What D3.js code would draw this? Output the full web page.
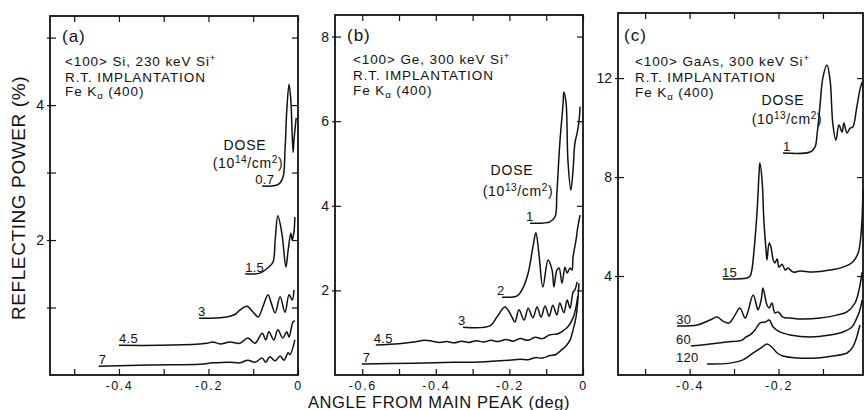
<!DOCTYPE html>
<html>
<head>
<meta charset="utf-8">
<script src="https://cdn.jsdelivr.net/npm/d3@7"></script>
<style>
  body { margin: 0; background: #fff; }
  text { font-family: "Liberation Sans", Arial, sans-serif; fill: #111; }
</style>
</head>
<body>
<svg id="chart" width="865" height="410"></svg>
<script>
'use strict';

const X_LABEL = "ANGLE FROM MAIN PEAK (deg)";
const Y_LABEL = "REFLECTING POWER (%)";

// ---- panel (a): <100> Si, doses in 1e14/cm2 ----
const siDoses = ["0.7", "1.5", "3", "4.5", "7"];
const siCurve07 = [[-0.080, 2.80], [-0.045, 2.82], [-0.034, 2.92], [-0.029, 3.33], [-0.025, 3.93],
  [-0.020, 4.31], [-0.016, 4.07], [-0.011, 3.30], [-0.009, 3.48], [-0.004, 3.81]];
const siCurve15 = [[-0.118, 1.50], [-0.085, 1.51], [-0.067, 1.59], [-0.056, 1.67], [-0.051, 2.00],
  [-0.045, 2.36], [-0.036, 2.10], [-0.027, 1.60], [-0.022, 1.85], [-0.016, 2.10], [-0.013, 2.00],
  [-0.009, 2.12], [-0.007, 2.34]];
const siCurve3 = [[-0.221, 0.84], [-0.159, 0.86], [-0.140, 0.90], [-0.130, 0.96], [-0.114, 1.02],
  [-0.100, 0.93], [-0.089, 0.86], [-0.078, 1.02], [-0.067, 1.19], [-0.059, 1.05], [-0.051, 0.92],
  [-0.040, 1.16], [-0.029, 0.93], [-0.020, 1.19], [-0.013, 1.11], [-0.009, 1.26]];
const siCurve45 = [[-0.400, 0.44], [-0.308, 0.44], [-0.219, 0.46], [-0.203, 0.47], [-0.190, 0.49],
  [-0.174, 0.46], [-0.152, 0.49], [-0.130, 0.47], [-0.112, 0.55], [-0.096, 0.47], [-0.080, 0.62],
  [-0.072, 0.52], [-0.065, 0.64], [-0.054, 0.52], [-0.045, 0.67], [-0.034, 0.55], [-0.025, 0.64],
  [-0.020, 0.56], [-0.011, 0.79], [-0.007, 0.80]];
const siCurve7 = [[-0.445, 0.13], [-0.331, 0.15], [-0.219, 0.16], [-0.190, 0.18], [-0.152, 0.19],
  [-0.130, 0.18], [-0.112, 0.22], [-0.096, 0.19], [-0.080, 0.25], [-0.072, 0.19], [-0.063, 0.27],
  [-0.051, 0.21], [-0.040, 0.28], [-0.031, 0.22], [-0.022, 0.33], [-0.018, 0.30], [-0.007, 0.52]];
const siXTicks = [-0.5, -0.4, -0.3, -0.2, -0.1, 0];
const siXLabels = [-0.4, -0.2, 0];
const siYTicks = [1, 2, 3, 4, 5];
const siYLabels = [2, 4];

// ---- panel (b): <100> Ge, doses in 1e13/cm2 ----
const geDoses = ["1", "2", "3", "4.5", "7"];
const geCurve1 = [[-0.144, 3.59], [-0.090, 3.62], [-0.076, 3.74], [-0.071, 4.30], [-0.063, 5.48],
  [-0.054, 6.43], [-0.052, 6.69], [-0.046, 6.43], [-0.041, 5.08], [-0.033, 4.37], [-0.027, 4.85],
  [-0.022, 5.48], [-0.016, 5.72], [-0.011, 5.98], [-0.008, 6.34]];
const geCurve2 = [[-0.220, 1.84], [-0.179, 1.87], [-0.163, 2.06], [-0.149, 2.41], [-0.136, 3.03],
  [-0.128, 3.36], [-0.120, 2.88], [-0.109, 2.08], [-0.095, 2.72], [-0.084, 2.48], [-0.079, 2.08],
  [-0.071, 2.48], [-0.065, 2.53], [-0.057, 2.17], [-0.049, 2.55], [-0.043, 2.41], [-0.035, 2.53],
  [-0.030, 2.48], [-0.027, 2.79], [-0.019, 3.19], [-0.014, 3.50], [-0.008, 3.78]];
const geCurve3 = [[-0.326, 1.13], [-0.253, 1.16], [-0.234, 1.37], [-0.212, 1.61], [-0.193, 1.37],
  [-0.185, 1.25], [-0.174, 1.54], [-0.160, 1.30], [-0.149, 1.58], [-0.136, 1.35], [-0.125, 1.61],
  [-0.114, 1.37], [-0.103, 1.63], [-0.092, 1.39], [-0.082, 1.65], [-0.071, 1.42], [-0.063, 1.70],
  [-0.052, 1.47], [-0.043, 1.77], [-0.035, 1.58], [-0.027, 1.96], [-0.022, 2.01], [-0.016, 2.20]];
const geCurve45 = [[-0.563, 0.71], [-0.500, 0.74], [-0.460, 0.78], [-0.430, 0.82], [-0.410, 0.80],
  [-0.390, 0.77], [-0.370, 0.79], [-0.350, 0.76], [-0.330, 0.80], [-0.310, 0.77], [-0.290, 0.81],
  [-0.270, 0.78], [-0.250, 0.82], [-0.230, 0.79], [-0.210, 0.84], [-0.190, 0.80], [-0.170, 0.86],
  [-0.150, 0.82], [-0.130, 0.89], [-0.110, 0.86], [-0.090, 0.95], [-0.070, 0.97], [-0.055, 1.04],
  [-0.041, 1.14], [-0.027, 1.35], [-0.019, 1.61], [-0.014, 1.87]];
const geCurve7 = [[-0.601, 0.26], [-0.460, 0.28], [-0.350, 0.30], [-0.280, 0.31], [-0.200, 0.35],
  [-0.170, 0.37], [-0.150, 0.36], [-0.130, 0.41], [-0.110, 0.40], [-0.090, 0.46], [-0.075, 0.48],
  [-0.060, 0.58], [-0.045, 0.70], [-0.035, 0.83], [-0.027, 1.06], [-0.019, 1.37], [-0.014, 1.77],
  [-0.011, 2.17]];
const geXTicks = [-0.6, -0.5, -0.4, -0.3, -0.2, -0.1, 0];
const geXLabels = [-0.6, -0.4, -0.2, 0];
const geYTicks = [2, 4, 6, 8];
const geYLabels = [2, 4, 6, 8];

// ---- panel (c): <100> GaAs, doses in 1e13/cm2 ----
const gaasDoses = ["1", "15", "30", "60", "120"];
const gaasCurve1 = [[-0.190, 8.97], [-0.129, 9.01], [-0.118, 9.21], [-0.113, 9.78], [-0.107, 10.83],
  [-0.100, 12.04], [-0.091, 12.53], [-0.084, 11.92], [-0.078, 10.18], [-0.071, 9.49], [-0.064, 10.10],
  [-0.057, 9.82], [-0.053, 10.18], [-0.046, 9.78], [-0.039, 9.98], [-0.033, 10.02], [-0.024, 10.83],
  [-0.017, 11.52], [-0.012, 11.84]];
const gaasCurve15 = [[-0.325, 3.88], [-0.271, 3.92], [-0.264, 4.00], [-0.260, 4.24], [-0.255, 5.05],
  [-0.248, 6.67], [-0.244, 8.08], [-0.242, 8.57], [-0.237, 7.88], [-0.233, 6.26], [-0.228, 5.05],
  [-0.226, 4.65], [-0.221, 5.33], [-0.217, 5.17], [-0.212, 4.65], [-0.208, 4.53], [-0.203, 4.69],
  [-0.199, 4.36], [-0.192, 4.48], [-0.185, 4.24], [-0.179, 4.32], [-0.167, 4.16], [-0.152, 4.20],
  [-0.123, 4.16], [-0.084, 4.24], [-0.055, 4.36], [-0.033, 4.57], [-0.021, 4.93], [-0.015, 5.58],
  [-0.012, 6.38], [-0.010, 7.47]];
const gaasCurve30 = [[-0.428, 1.98], [-0.383, 2.02], [-0.354, 2.22], [-0.338, 2.34], [-0.325, 2.18],
  [-0.311, 2.10], [-0.298, 2.42], [-0.287, 2.71], [-0.275, 2.30], [-0.269, 2.55], [-0.257, 3.23],
  [-0.248, 2.71], [-0.246, 2.63], [-0.239, 3.03], [-0.235, 3.52], [-0.226, 2.83], [-0.221, 2.71],
  [-0.215, 2.91], [-0.208, 2.51], [-0.201, 2.55], [-0.190, 2.34], [-0.174, 2.30], [-0.145, 2.26],
  [-0.107, 2.30], [-0.069, 2.42], [-0.046, 2.55], [-0.028, 2.91], [-0.019, 3.43], [-0.012, 4.16]];
const gaasCurve60 = [[-0.397, 1.17], [-0.354, 1.25], [-0.316, 1.33], [-0.282, 1.41], [-0.273, 1.54],
  [-0.264, 1.62], [-0.253, 1.82], [-0.242, 2.10], [-0.230, 2.14], [-0.221, 2.22], [-0.212, 1.94],
  [-0.197, 1.74], [-0.174, 1.62], [-0.129, 1.54], [-0.084, 1.62], [-0.055, 1.74], [-0.035, 1.94],
  [-0.024, 2.30], [-0.017, 2.63], [-0.012, 3.03]];
const gaasCurve120 = [[-0.361, 0.44], [-0.309, 0.48], [-0.280, 0.61], [-0.257, 0.89], [-0.237, 1.13],
  [-0.226, 1.25], [-0.215, 1.13], [-0.203, 0.89], [-0.190, 0.77], [-0.158, 0.69], [-0.113, 0.69],
  [-0.078, 0.77], [-0.046, 0.89], [-0.033, 1.13], [-0.024, 1.54], [-0.017, 2.02]];
const gaasXTicks = [-0.5, -0.4, -0.3, -0.2, -0.1];
const gaasXLabels = [-0.4, -0.2];
const gaasYTicks = [4, 8, 12];
const gaasYLabels = [4, 8, 12];

// text blocks: arrays of [string, "sup"/"sub"/undefined]
const siInfo = [[["<100> Si, 230 keV  Si"], ["+", "sup"]], [["R.T. IMPLANTATION"]], [["Fe  K"], ["α", "sub"], [" (400)"]]];
const geInfo = [[["<100> Ge, 300 keV  Si"], ["+", "sup"]], [["R.T. IMPLANTATION"]], [["Fe  K"], ["α", "sub"], [" (400)"]]];
const gaasInfo = [[["<100> GaAs, 300 keV  Si"], ["+", "sup"]], [["R.T. IMPLANTATION"]], [["Fe  K"], ["α", "sub"], [" (400)"]]];
const unit14 = [["(10"], ["14", "sup"], ["/cm"], ["2", "sup"], [")"]];
const unit13 = [["(10"], ["13", "sup"], ["/cm"], ["2", "sup"], [")"]];

// layout (pixels)
const panels = [
  { letter: "(a)", box: { left: 50, top: 16, right: 298, bottom: 375 }, xDomain: [-0.554, 0], yDomain: [0, 5.32],
    curves: [siCurve07, siCurve15, siCurve3, siCurve45, siCurve7], doses: siDoses, labelDx: [-7, 0, -1, 0, 0],
    xTicks: siXTicks, xLabels: siXLabels, yTicks: siYTicks, yLabels: siYLabels,
    info: siInfo, unit: unit14, letterPos: [62, 42], infoX: 65, infoY: [66, 82, 96], dosePos: [245, 150], unitPos: [248, 168] },
  { letter: "(b)", box: { left: 335, top: 15, right: 583, bottom: 375 }, xDomain: [-0.674, 0], yDomain: [0, 8.51],
    curves: [geCurve1, geCurve2, geCurve3, geCurve45, geCurve7], doses: geDoses, labelDx: [-4, -5, -5, -2, 1],
    xTicks: geXTicks, xLabels: geXLabels, yTicks: geYTicks, yLabels: geYLabels,
    info: geInfo, unit: unit13, letterPos: [347, 41], infoX: 353, infoY: [64, 80, 95], dosePos: [512, 175], unitPos: [518, 196] },
  { letter: "(c)", box: { left: 618, top: 13, right: 863, bottom: 375 }, xDomain: [-0.561, -0.010], yDomain: [0, 14.63],
    curves: [gaasCurve1, gaasCurve15, gaasCurve30, gaasCurve60, gaasCurve120], doses: gaasDoses, labelDx: [0, -1, -1, -15, -31],
    xTicks: gaasXTicks, xLabels: gaasXLabels, yTicks: gaasYTicks, yLabels: gaasYLabels,
    info: gaasInfo, unit: unit13, letterPos: [624, 41], infoX: 635, infoY: [66, 82, 97], dosePos: [783, 105], unitPos: [787, 124] }
];

const svg = d3.select("#chart");
const fmt = d => d === 0 ? "0" : d.toFixed(1);

function richText(g, x, y, parts, size, anchor, spacing) {
  const t = g.append("text").attr("x", x).attr("y", y)
    .attr("font-size", size).attr("text-anchor", anchor || "start").attr("letter-spacing", spacing);
  let shift = 0;
  for (const [str, kind] of parts) {
    const target = kind === "sup" ? -5 : kind === "sub" ? 3 : 0;
    t.append("tspan").attr("dy", target - shift)
      .attr("font-size", kind ? size * 0.72 : size).text(str);
    shift = target;
  }
  return t;
}

function drawPanel(p) {
  const b = p.box;
  const x = d3.scaleLinear().domain(p.xDomain).range([b.left, b.right]);
  const y = d3.scaleLinear().domain(p.yDomain).range([b.bottom, b.top]);
  const g = svg.append("g");

  const tidy = (sel, size, spacing) => {
    sel.select(".domain").remove();
    sel.selectAll("line").attr("stroke", "#111").attr("stroke-width", 1.2);
    sel.selectAll("text").attr("font-size", size || 14).attr("letter-spacing", spacing || 0)
      .attr("fill", "#111").attr("font-family", "'Liberation Sans', Arial, sans-serif");
  };

  // inward ticks on all four sides
  g.append("g").attr("transform", `translate(0,${b.bottom})`)
    .call(d3.axisBottom(x).tickValues(p.xTicks).tickSize(-6).tickFormat("")).call(tidy);
  g.append("g").attr("transform", `translate(0,${b.top})`)
    .call(d3.axisTop(x).tickValues(p.xTicks).tickSize(-6).tickFormat("")).call(tidy);
  g.append("g").attr("transform", `translate(${b.left},0)`)
    .call(d3.axisLeft(y).tickValues(p.yTicks).tickSize(-6).tickFormat("")).call(tidy);
  g.append("g").attr("transform", `translate(${b.left},0)`)
    .call(d3.axisLeft(y).tickValues(p.yTicks).tickSize(3).tickFormat("")).call(tidy);
  g.append("g").attr("transform", `translate(${b.right},0)`)
    .call(d3.axisRight(y).tickValues(p.yTicks).tickSize(-6).tickFormat("")).call(tidy);

  // tick labels
  g.append("g").attr("transform", `translate(0,${b.bottom})`)
    .call(d3.axisBottom(x).tickValues(p.xLabels).tickSize(0).tickPadding(6).tickFormat(fmt))
    .call(tidy, 12.5, 1.6);
  g.append("g").attr("transform", `translate(${b.left},0)`)
    .call(d3.axisLeft(y).tickValues(p.yLabels).tickSize(0).tickPadding(6).tickFormat(d3.format("d")))
    .call(tidy, 14, 0);

  // frame
  g.append("rect").attr("x", b.left).attr("y", b.top)
    .attr("width", b.right - b.left).attr("height", b.bottom - b.top)
    .attr("fill", "none").attr("stroke", "#111").attr("stroke-width", 1.8);

  // curves
  const line = d3.line().x(d => x(d[0])).y(d => y(d[1])).curve(d3.curveCatmullRom.alpha(0.5));
  g.selectAll("path.curve").data(p.curves).join("path")
    .attr("class", "curve").attr("d", line)
    .attr("fill", "none").attr("stroke", "#111").attr("stroke-width", 1.5).attr("stroke-linejoin", "round");

  // dose labels at the start of each curve
  g.selectAll("text.dose").data(p.curves).join("text")
    .attr("class", "dose")
    .attr("x", (d, i) => x(d[0][0]) + p.labelDx[i])
    .attr("y", d => y(d[0][1]) - 2)
    .attr("font-size", 13).attr("letter-spacing", 0.3)
    .text((d, i) => p.doses[i]);

  // header text
  g.append("text").attr("x", p.letterPos[0]).attr("y", p.letterPos[1])
    .attr("font-size", 17).attr("letter-spacing", 1).text(p.letter);
  p.info.forEach((parts, i) => richText(g, p.infoX, p.infoY[i], parts, 13.5, "start", 0.9));
  g.append("text").attr("x", p.dosePos[0]).attr("y", p.dosePos[1])
    .attr("text-anchor", "middle").attr("font-size", 14).attr("letter-spacing", 0.8).text("DOSE");
  richText(g, p.unitPos[0], p.unitPos[1], p.unit, 14, "middle", 0.6);
}

panels.forEach(drawPanel);

// shared axis titles
svg.append("text").attr("x", 439).attr("y", 408).attr("text-anchor", "middle")
  .attr("font-size", 16.5).attr("letter-spacing", 0.6).text(X_LABEL);
svg.append("text").attr("transform", "translate(25,198) rotate(-90)").attr("text-anchor", "middle")
  .attr("font-size", 19).attr("letter-spacing", 0.6).text(Y_LABEL);
</script>
</body>
</html>
